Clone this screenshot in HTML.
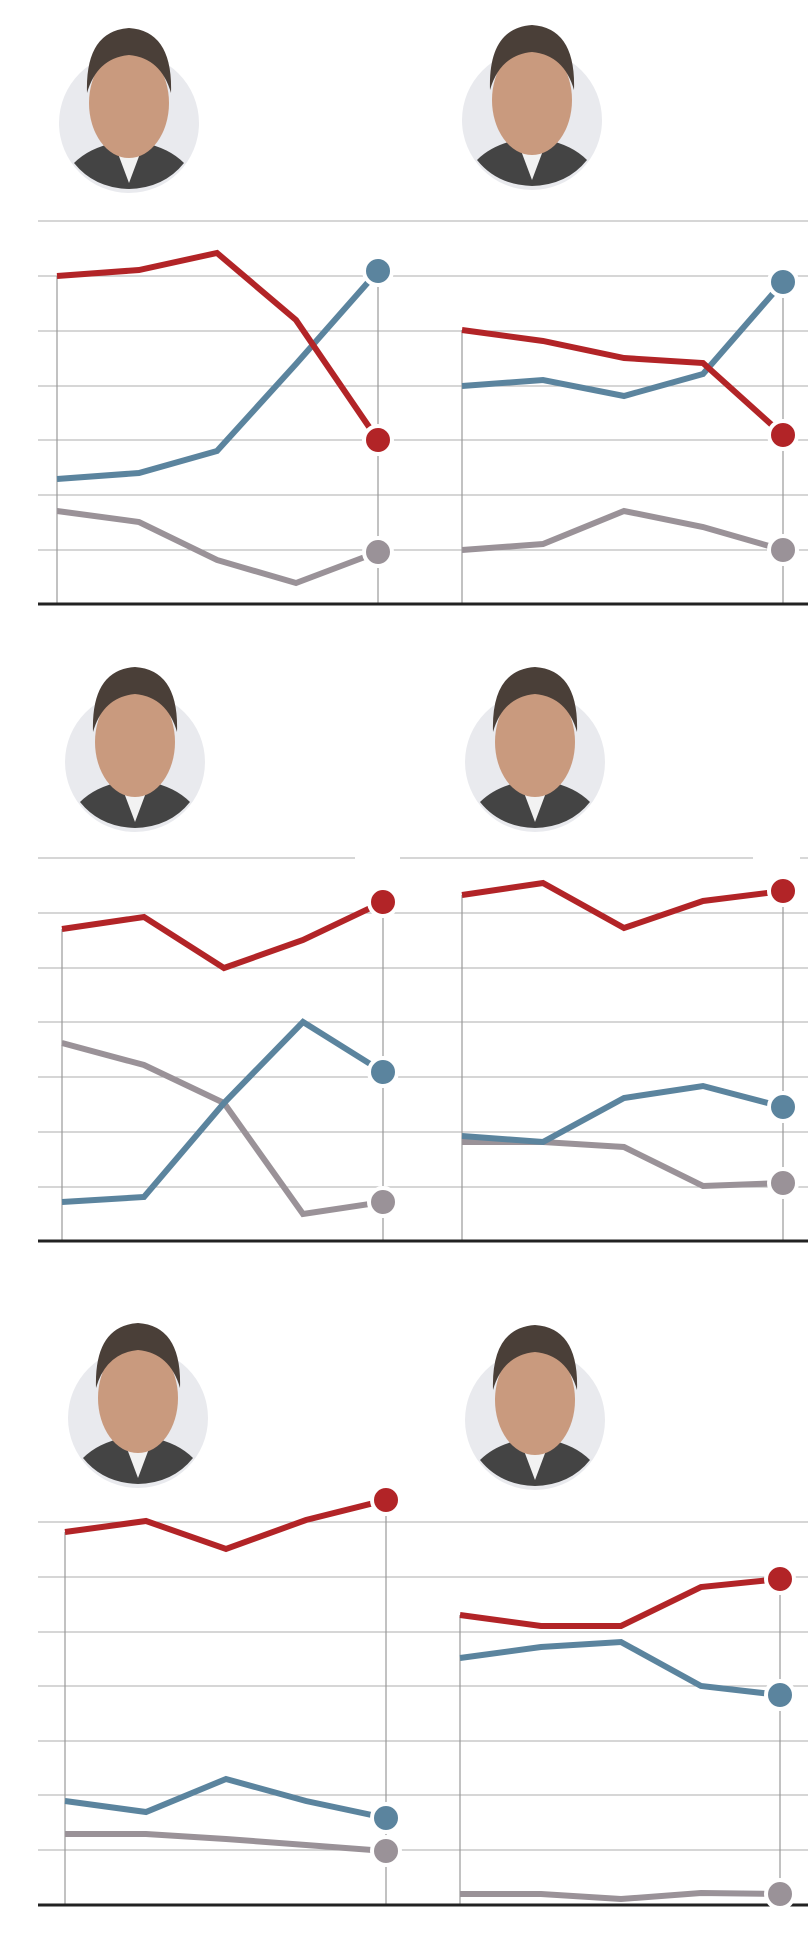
<!DOCTYPE html>
<html><head><meta charset="utf-8"><style>html,body{margin:0;padding:0;background:#fff}svg{display:block}</style></head>
<body>
<svg width="808" height="1954" viewBox="0 0 808 1954" xmlns="http://www.w3.org/2000/svg">
<defs>
<g id="face">
  <circle cx="0" cy="0" r="70" fill="#e9eaee"/>
  <path d="M-55,40 Q-40,25 -15,20 L15,20 Q40,25 55,40 Q35,65 0,66 Q-35,65 -55,40Z" fill="#444"/>
  <path d="M-15,20 L0,60 L15,20Z" fill="#f2f2f2"/>
  <ellipse cx="0" cy="-20" rx="40" ry="55" fill="#c99a7e"/>
  <path d="M-42,-30 Q-44,-92 0,-95 Q44,-92 42,-30 Q32,-65 0,-68 Q-32,-65 -42,-30Z" fill="#4a3f38"/>
</g>
</defs>

<use href="#face" x="129" y="123"/>
<use href="#face" x="532" y="120"/>
<use href="#face" x="135" y="762"/>
<use href="#face" x="535" y="762"/>
<use href="#face" x="138" y="1418"/>
<use href="#face" x="535" y="1420"/>

<g stroke="#bdbdbd" stroke-width="1.2">
  <line x1="38" y1="221" x2="808" y2="221"/>
  <line x1="38" y1="276" x2="808" y2="276"/>
  <line x1="38" y1="331" x2="808" y2="331"/>
  <line x1="38" y1="386" x2="808" y2="386"/>
  <line x1="38" y1="440" x2="808" y2="440"/>
  <line x1="38" y1="495" x2="808" y2="495"/>
  <line x1="38" y1="550" x2="808" y2="550"/>
  <line x1="38" y1="858" x2="355" y2="858"/>
  <line x1="400" y1="858" x2="753" y2="858"/>
  <line x1="800" y1="858" x2="808" y2="858"/>
  <line x1="38" y1="913" x2="808" y2="913"/>
  <line x1="38" y1="968" x2="808" y2="968"/>
  <line x1="38" y1="1022" x2="808" y2="1022"/>
  <line x1="38" y1="1077" x2="808" y2="1077"/>
  <line x1="38" y1="1132" x2="808" y2="1132"/>
  <line x1="38" y1="1187" x2="808" y2="1187"/>
  <line x1="38" y1="1522" x2="808" y2="1522"/>
  <line x1="38" y1="1577" x2="808" y2="1577"/>
  <line x1="38" y1="1632" x2="808" y2="1632"/>
  <line x1="38" y1="1686" x2="808" y2="1686"/>
  <line x1="38" y1="1741" x2="808" y2="1741"/>
  <line x1="38" y1="1795" x2="808" y2="1795"/>
  <line x1="38" y1="1850" x2="808" y2="1850"/>
</g>
<g stroke="#999" stroke-width="1.2">
  <line x1="57" y1="276" x2="57" y2="604"/>
  <line x1="378" y1="276" x2="378" y2="604"/>
  <line x1="462" y1="330" x2="462" y2="604"/>
  <line x1="783" y1="282" x2="783" y2="604"/>
  <line x1="62" y1="929" x2="62" y2="1241"/>
  <line x1="383" y1="902" x2="383" y2="1241"/>
  <line x1="462" y1="895" x2="462" y2="1241"/>
  <line x1="783" y1="891" x2="783" y2="1241"/>
  <line x1="65" y1="1532" x2="65" y2="1905"/>
  <line x1="386" y1="1500" x2="386" y2="1905"/>
  <line x1="460" y1="1615" x2="460" y2="1905"/>
  <line x1="780" y1="1579" x2="780" y2="1905"/>
</g>
<g stroke="#222" stroke-width="3">
  <line x1="38" y1="604" x2="808" y2="604"/>
  <line x1="38" y1="1241" x2="808" y2="1241"/>
  <line x1="38" y1="1905" x2="808" y2="1905"/>
</g>

<g fill="none" stroke-width="6">
  <polyline stroke="#9a9298" points="57,511 139,522 217,560 296,583 378,552"/>
  <polyline stroke="#5b849e" points="57,479 139,473 217,451 296,364 378,271"/>
  <polyline stroke="#b22427" points="57,276 139,270 217,253 296,320 378,440"/>
  <polyline stroke="#9a9298" points="462,550 543,544 624,511 703,527 783,550"/>
  <polyline stroke="#5b849e" points="462,386 543,380 624,396 703,374 783,282"/>
  <polyline stroke="#b22427" points="462,330 543,341 624,358 703,363 783,435"/>
  <polyline stroke="#9a9298" points="62,1043 144,1065 224,1103 303,1214 383,1202"/>
  <polyline stroke="#5b849e" points="62,1202 144,1197 224,1103 303,1022 383,1072"/>
  <polyline stroke="#b22427" points="62,929 144,917 224,968 303,940 383,902"/>
  <polyline stroke="#9a9298" points="462,1142 543,1142 624,1147 703,1186 783,1183"/>
  <polyline stroke="#5b849e" points="462,1136 543,1142 624,1098 703,1086 783,1107"/>
  <polyline stroke="#b22427" points="462,895 543,883 624,928 703,901 783,891"/>
  <polyline stroke="#9a9298" points="65,1834 146,1834 226,1839 306,1845 386,1851"/>
  <polyline stroke="#5b849e" points="65,1801 146,1812 226,1779 306,1801 386,1818"/>
  <polyline stroke="#b22427" points="65,1532 146,1521 226,1549 306,1520 386,1500"/>
  <polyline stroke="#9a9298" points="460,1894 541,1894 621,1899 701,1893 780,1894"/>
  <polyline stroke="#5b849e" points="460,1658 541,1647 621,1642 701,1686 780,1695"/>
  <polyline stroke="#b22427" points="460,1615 541,1626 621,1626 701,1587 780,1579"/>
</g>

<g stroke="#fff" stroke-width="4">
  <circle cx="378" cy="440" r="14" fill="#b22427"/>
  <circle cx="378" cy="271" r="14" fill="#5b849e"/>
  <circle cx="378" cy="552" r="14" fill="#9a9298"/>
  <circle cx="783" cy="435" r="14" fill="#b22427"/>
  <circle cx="783" cy="282" r="14" fill="#5b849e"/>
  <circle cx="783" cy="550" r="14" fill="#9a9298"/>
  <circle cx="383" cy="902" r="14" fill="#b22427"/>
  <circle cx="383" cy="1072" r="14" fill="#5b849e"/>
  <circle cx="383" cy="1202" r="14" fill="#9a9298"/>
  <circle cx="783" cy="891" r="14" fill="#b22427"/>
  <circle cx="783" cy="1107" r="14" fill="#5b849e"/>
  <circle cx="783" cy="1183" r="14" fill="#9a9298"/>
  <circle cx="386" cy="1500" r="14" fill="#b22427"/>
  <circle cx="386" cy="1818" r="14" fill="#5b849e"/>
  <circle cx="386" cy="1851" r="14" fill="#9a9298"/>
  <circle cx="780" cy="1579" r="14" fill="#b22427"/>
  <circle cx="780" cy="1695" r="14" fill="#5b849e"/>
  <circle cx="780" cy="1894" r="14" fill="#9a9298"/>
</g>
</svg>
</body></html>
